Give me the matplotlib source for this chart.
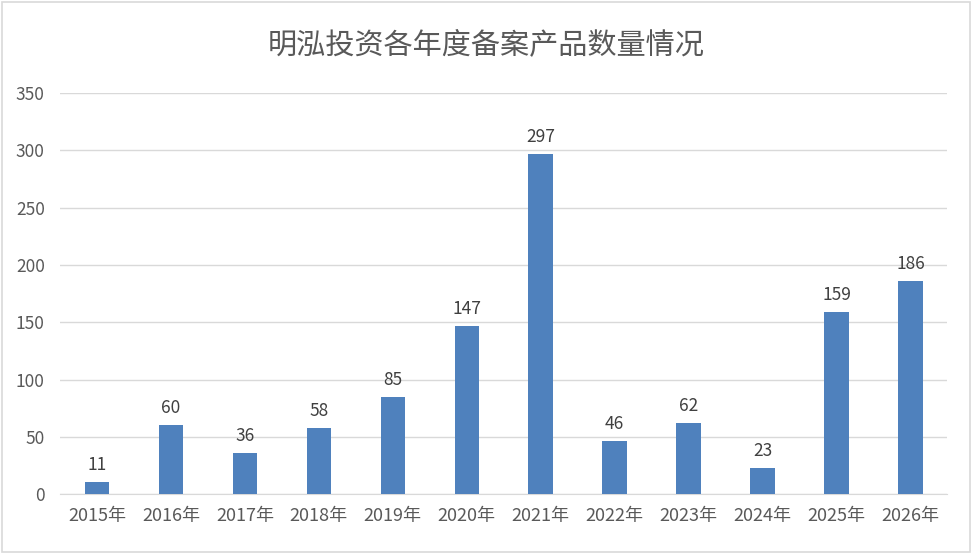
"""明泓投资各年度备案产品数量柱状图。"""

import matplotlib
matplotlib.use("Agg")
import matplotlib.pyplot as plt
from matplotlib.patches import Rectangle

years = ["2015年", "2016年", "2017年", "2018年", "2019年", "2020年",
         "2021年", "2022年", "2023年", "2024年", "2025年", "2026年"]
counts = [11, 60, 36, 58, 85, 147, 297, 46, 62, 23, 159, 186]
y_ticks = [0, 50, 100, 150, 200, 250, 300, 350]

BAR_COLOR = "#4F81BD"
TEXT_COLOR = "#595959"
GRID_COLOR = "#D9D9D9"

plt.rcParams["font.family"] = ["Noto Sans CJK SC", "DejaVu Sans"]

fig = plt.figure(figsize=(9.72, 5.54), dpi=100)
fig.patch.set_facecolor("white")
fig.patches.append(Rectangle((0.002, 0.003), 0.996, 0.994, transform=fig.transFigure,
                             fill=False, edgecolor=GRID_COLOR, linewidth=1.2))

ax = fig.add_axes([0.0617, 0.108, 0.913, 0.724])
x = range(len(years))
ax.bar(x, counts, width=0.33, color=BAR_COLOR, zorder=3)

for xi, v in zip(x, counts):
    ax.text(xi, v + 7, str(v), ha="center", va="bottom",
            fontsize=12.5, color="#404040")

ax.set_xlim(-0.5, len(years) - 0.5)
ax.set_ylim(0, 350)
ax.set_yticks(y_ticks)
ax.set_xticks(list(x))
ax.set_xticklabels(years)
ax.yaxis.grid(True, color=GRID_COLOR, linewidth=1, zorder=0)
ax.set_axisbelow(True)
for side in ["top", "right", "left"]:
    ax.spines[side].set_visible(False)
ax.spines["bottom"].set_color(GRID_COLOR)
ax.tick_params(axis="both", length=0, colors=TEXT_COLOR)
ax.tick_params(axis="x", pad=9, labelsize=13)
ax.tick_params(axis="y", pad=11, labelsize=12.5)

fig.text(0.5, 0.918, "明泓投资各年度备案产品数量情况", ha="center", va="center",
         fontsize=21, color=TEXT_COLOR)

fig.savefig("out.png", dpi=100)
